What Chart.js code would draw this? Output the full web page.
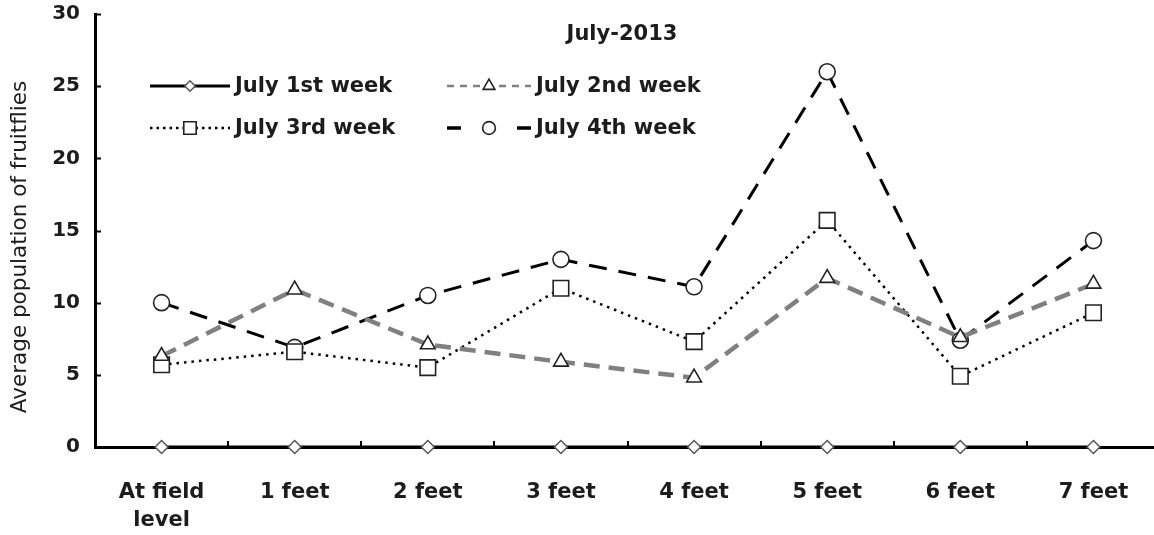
<!DOCTYPE html>
<html>
<head>
<meta charset="utf-8">
<script src="https://cdn.jsdelivr.net/npm/chart.js@4/dist/chart.umd.min.js"></script>
<style>
  html, body { margin: 0; padding: 0; background: #fff; overflow: hidden; }
  canvas { display: block; }
</style>
</head>
<body>
<canvas id="chart" width="1162" height="535"></canvas>
<script>
// Heights at which fruit flies were trapped
const categories = [["At field", "level"], "1 feet", "2 feet", "3 feet", "4 feet", "5 feet", "6 feet", "7 feet"];

// Weekly average catch per trap height
const week1 = [0, 0, 0, 0, 0, 0, 0, 0];
const week2 = [6.3, 10.9, 7.1, 5.9, 4.8, 11.7, 7.6, 11.3];
const week3 = [5.7, 6.6, 5.5, 11.0, 7.3, 15.7, 4.9, 9.3];
const week4 = [10.0, 6.9, 10.5, 13.0, 11.1, 26.0, 7.4, 14.3];

const seriesNames = ["July 1st week", "July 2nd week", "July 3rd week", "July 4th week"];
const chartTitle = "July-2013";
const yAxisTitle = "Average population of fruitflies";
const yTicks = [0, 5, 10, 15, 20, 25, 30];

const INK = "#1c1c1c";
const FONT = "'DejaVu Sans', 'Open Sans', sans-serif";

// Title, y-axis caption, inward tick marks and the in-plot legend
const decorations = {
  id: "decorations",
  afterDraw(chart) {
    const { ctx, chartArea, scales } = chart;
    const y = scales.y, x = scales.x;
    ctx.save();

    // inward tick marks
    ctx.strokeStyle = "#000";
    ctx.lineWidth = 2;
    yTicks.forEach(v => {
      const py = Math.round(y.getPixelForValue(v)) + 0.5;
      ctx.beginPath();
      ctx.moveTo(chartArea.left, py);
      ctx.lineTo(chartArea.left + 6, py);
      ctx.stroke();
    });
    for (let i = 1; i < categories.length; i++) {
      const px = Math.round((x.getPixelForValue(i - 1) + x.getPixelForValue(i)) / 2);
      ctx.beginPath();
      ctx.moveTo(px, chartArea.bottom);
      ctx.lineTo(px, chartArea.bottom - 6);
      ctx.stroke();
    }

    // chart title
    ctx.fillStyle = INK;
    ctx.font = "bold 21px " + FONT;
    ctx.textAlign = "center";
    ctx.textBaseline = "middle";
    ctx.fillText(chartTitle, 622, 35);

    // y-axis caption
    ctx.save();
    ctx.translate(20, 247);
    ctx.rotate(-Math.PI / 2);
    ctx.font = "21.5px " + FONT;
    ctx.fillText(yAxisTitle, 0, 0);
    ctx.restore();

    // legend: two rows, two columns
    const slots = [
      { x0: 150, x1: 230, y: 86 },
      { x0: 447, x1: 531, y: 86 },
      { x0: 150, x1: 230, y: 128 },
      { x0: 447, x1: 531, y: 128 }
    ];
    chart.data.datasets.forEach((ds, i) => {
      const s = slots[i];
      const mid = (s.x0 + s.x1) / 2;
      ctx.save();
      ctx.strokeStyle = ds.borderColor;
      ctx.lineWidth = ds.legendWidth || ds.borderWidth;
      ctx.setLineDash(ds.legendDash || ds.borderDash || []);
      ctx.beginPath();
      ctx.moveTo(s.x0, s.y);
      ctx.lineTo(s.x1, s.y);
      ctx.stroke();
      ctx.restore();
      ctx.save();
      ctx.fillStyle = ds.pointBackgroundColor;
      ctx.strokeStyle = ds.pointBorderColor;
      ctx.lineWidth = ds.pointBorderWidth;
      Chart.helpers.drawPoint(ctx, {
        pointStyle: ds.pointStyle,
        radius: ds.pointRadius * 0.8,
        rotation: 0,
        borderWidth: ds.pointBorderWidth
      }, mid, s.y);
      ctx.restore();
      ctx.fillStyle = INK;
      ctx.font = "bold 21px " + FONT;
      ctx.textAlign = "left";
      ctx.textBaseline = "middle";
      ctx.fillText(ds.label, s.x1 + 5, s.y + 1);
    });

    ctx.restore();
  }
};

new Chart(document.getElementById("chart"), {
  type: "line",
  data: {
    labels: categories,
    datasets: [
      {
        label: seriesNames[0], data: week1,
        borderColor: "#000", borderWidth: 3, borderDash: [],
        pointStyle: "rectRot", pointRadius: 6.5,
        pointBackgroundColor: "#fff", pointBorderColor: "#555", pointBorderWidth: 1.5,
        clip: false, tension: 0
      },
      {
        label: seriesNames[1], data: week2,
        borderColor: "#808080", borderWidth: 4.5, borderDash: [16, 9],
        legendDash: [7, 6], legendWidth: 2.5,
        pointStyle: "triangle", pointRadius: 8.5,
        pointBackgroundColor: "#fff", pointBorderColor: "#222", pointBorderWidth: 1.6,
        clip: false, tension: 0
      },
      {
        label: seriesNames[2], data: week3,
        borderColor: "#000", borderWidth: 2.5, borderDash: [2.5, 5],
        legendDash: [2.5, 4],
        pointStyle: "rect", pointRadius: 11,
        pointBackgroundColor: "#fff", pointBorderColor: "#222", pointBorderWidth: 1.6,
        clip: false, tension: 0
      },
      {
        label: seriesNames[3], data: week4,
        borderColor: "#000", borderWidth: 3, borderDash: [18, 12],
        legendDash: [14, 56], legendWidth: 3.5,
        pointStyle: "circle", pointRadius: 8,
        pointBackgroundColor: "#fff", pointBorderColor: "#222", pointBorderWidth: 1.6,
        clip: false, tension: 0
      }
    ]
  },
  options: {
    responsive: false,
    animation: false,
    events: [],
    layout: { autoPadding: false, padding: { top: 3, right: 2, left: 0, bottom: 0 } },
    plugins: {
      legend: { display: false },
      title: { display: false },
      tooltip: { enabled: false }
    },
    scales: {
      x: {
        offset: true,
        afterFit(scale) { scale.height = 88; },
        grid: { display: true, drawOnChartArea: false, drawTicks: true, tickLength: 29, tickColor: "rgba(0,0,0,0)" },
        border: { display: true, color: "#000", width: 3 },
        ticks: {
          color: INK, padding: 2, maxRotation: 0, autoSkip: false,
          font: { family: FONT, size: 21, weight: "bold", lineHeight: 1.35 }
        }
      },
      y: {
        min: 0, max: 30,
        afterFit(scale) { scale.width = 95; },
        grid: { display: true, drawOnChartArea: false, drawTicks: true, tickLength: 13, tickColor: "rgba(0,0,0,0)" },
        border: { display: true, color: "#000", width: 3 },
        ticks: {
          stepSize: 5, color: INK, padding: 2,
          font: { family: FONT, size: 20, weight: "bold" }
        }
      }
    }
  },
  plugins: [decorations]
});
</script>
</body>
</html>
